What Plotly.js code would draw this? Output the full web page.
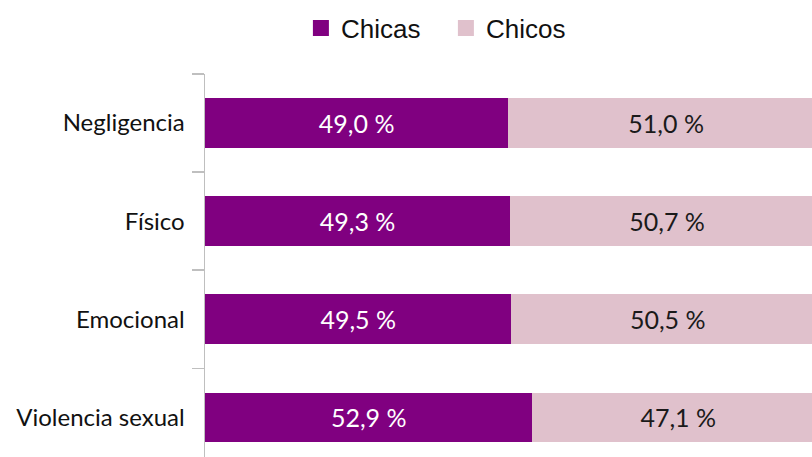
<!DOCTYPE html>
<html>
<head>
<meta charset="utf-8">
<script src="https://cdn.plot.ly/plotly-3.0.1.min.js"></script>
<style>html,body{margin:0;padding:0;background:#fff;}#chart{width:812px;height:457px;}</style>
</head>
<body>
<div id="chart"></div>
<script>
const categories = ['Negligencia', 'Físico', 'Emocional', 'Violencia sexual'];
const chicas = [49.0, 49.3, 49.5, 52.9];
const chicos = [51.0, 50.7, 50.5, 47.1];
const seriesNames = ['Chicas', 'Chicos'];

const purple = '#800080';
const pink = '#E0C1CC';

function barTrace(name, values, color, textColor) {
  return {
    type: 'bar', orientation: 'h', name: name, showlegend: false, legendgroup: name,
    y: categories, x: values, width: 0.505,
    marker: {color: color, line: {width: 0}},
    texttemplate: '%{x:.1f} %', textposition: 'inside', insidetextanchor: 'middle',
    textangle: 0, constraintext: 'none',
    insidetextfont: {family: 'Lato', size: 25, color: textColor},
    hoverinfo: 'none'
  };
}
function legendTrace(name, color) {
  return {
    type: 'scatter', mode: 'markers', name: name, legendgroup: name, showlegend: true,
    x: [null], y: [null],
    marker: {symbol: 'square', size: 16, color: color, line: {width: 0}},
    hoverinfo: 'none'
  };
}

const traces = [
  barTrace(seriesNames[0], chicas, purple, '#ffffff'),
  barTrace(seriesNames[1], chicos, pink, '#1a1a1a'),
  legendTrace(seriesNames[0], purple),
  legendTrace(seriesNames[1], pink)
];

const layout = {
  width: 812, height: 457,
  margin: {l: 205, r: 0, t: 74, b: 0, pad: 0},
  barmode: 'stack',
  separators: ',.',
  paper_bgcolor: '#ffffff', plot_bgcolor: '#ffffff',
  showlegend: true,
  legend: {
    orientation: 'h', x: 0.158, xanchor: 'left', y: 1.12, yanchor: 'middle',
    font: {family: 'Liberation Sans', size: 26, color: '#111111'},
    traceorder: 'normal', entrywidth: 100, entrywidthmode: 'pixels',
    itemsizing: 'trace'
  },
  xaxis: {
    range: [0, 98.06], showgrid: false, zeroline: false, showline: false,
    showticklabels: false, ticks: '', fixedrange: true
  },
  yaxis: {
    type: 'category', categoryorder: 'array', categoryarray: categories,
    range: [3.404, -0.5],
    showline: true, linecolor: '#BFBFBF', linewidth: 1.5,
    ticks: 'outside', tickson: 'boundaries', ticklen: 12, tickcolor: '#BFBFBF', tickwidth: 1.5,
    ticklabelstandoff: 14,
    tickfont: {family: 'Lato', size: 24, color: '#111111'},
    showgrid: false, zeroline: false, fixedrange: true
  }
};

Plotly.newPlot('chart', traces, layout, {displayModeBar: false, staticPlot: true});
</script>
</body>
</html>
